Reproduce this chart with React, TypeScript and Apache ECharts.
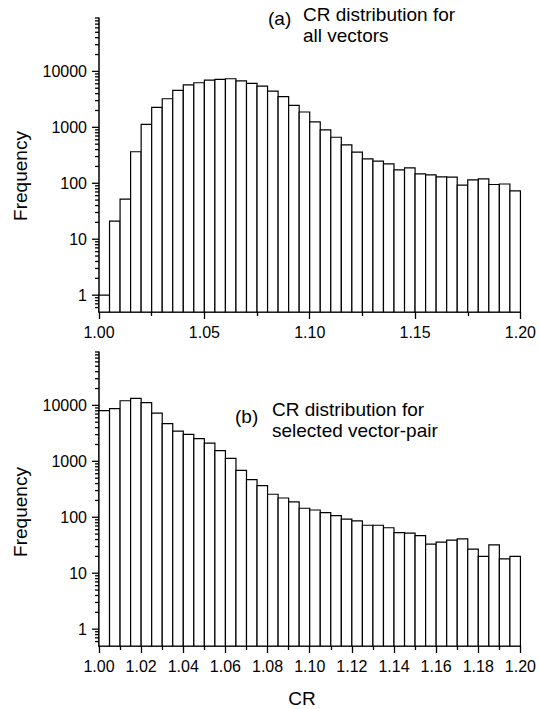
import React, { useEffect, useRef } from "react";
import * as echarts from "echarts";

// Histogram bins (left edges), bin width 0.005
const BIN_STARTS = [
  1.000, 1.005, 1.010, 1.015, 1.020, 1.025, 1.030, 1.035, 1.040, 1.045,
  1.050, 1.055, 1.060, 1.065, 1.070, 1.075, 1.080, 1.085, 1.090, 1.095,
  1.100, 1.105, 1.110, 1.115, 1.120, 1.125, 1.130, 1.135, 1.140, 1.145,
  1.150, 1.155, 1.160, 1.165, 1.170, 1.175, 1.180, 1.185, 1.190, 1.195,
];
const BIN_WIDTH = 0.005;

// (a) CR distribution for all vectors
const COUNTS_ALL = [
  1, 21, 52, 366, 1130, 2270, 3240, 4560, 5750, 6260,
  7000, 7200, 7380, 6770, 6110, 5450, 4450, 3530, 2470, 1880,
  1250, 898, 665, 485, 359, 273, 248, 222, 174, 188,
  147, 141, 130, 129, 93, 115, 120, 95, 97, 73,
];

// (b) CR distribution for selected vector-pair
const COUNTS_PAIR = [
  8040, 8720, 12100, 13300, 11200, 7290, 4710, 3480, 3040, 2540,
  2120, 1550, 1130, 690, 471, 367, 258, 221, 188, 145,
  135, 121, 107, 93, 86, 72, 72, 65, 53, 52,
  47, 33, 36, 39, 41, 27, 20, 32, 18, 20,
];

const Y_DECADES = [1, 10, 100, 1000, 10000];
const Y_SUB_DECADES = [0.1, 1, 10, 100, 1000, 10000];
const Y_MINOR_MULT = [2, 3, 4, 5, 6, 7, 8, 9];
const Y_MIN = 0.5;
const Y_MAX = 90000;
const X_MIN = 1.0;
const X_MAX = 1.2;

const FONT = "'Liberation Sans', Arial, Helvetica, sans-serif";

function buildYTicks() {
  const out: number[][] = [];
  Y_DECADES.forEach((d) => out.push([X_MIN, d, 7]));
  Y_SUB_DECADES.forEach((d) =>
    Y_MINOR_MULT.forEach((m) => {
      const v = d * m;
      if (v > Y_MIN + 1e-9 && v <= Y_MAX + 1e-9) out.push([X_MIN, v, 4]);
    })
  );
  return out;
}

function barData(counts: number[]) {
  return BIN_STARTS.map((s, i) => [s, s + BIN_WIDTH, counts[i]]);
}

export default function App() {
  const ref = useRef<HTMLDivElement>(null);
  useEffect(() => {
    if (!ref.current) return;
    const chart = echarts.init(ref.current, undefined, { renderer: "svg" });
    const axisColor = "#000";
    const xAxis = (gridIndex: number, interval: number) => ({
      gridIndex,
      type: "value",
      min: X_MIN,
      max: X_MAX,
      interval,
      axisLine: { show: true, onZero: false, lineStyle: { color: axisColor, width: 1.5 } },
      axisTick: { show: true, inside: false, length: 7, lineStyle: { color: axisColor, width: 1.3 } },
      minorTick: { show: true, splitNumber: 2, length: 4, lineStyle: { color: axisColor, width: 1.3 } },
      splitLine: { show: false },
      minorSplitLine: { show: false },
      axisLabel: {
        formatter: (v: number) => v.toFixed(2),
        fontSize: 16,
        fontFamily: FONT,
        color: "#000",
        margin: 12,
      },
    });
    const yAxis = (gridIndex: number) => ({
      gridIndex,
      type: "log",
      logBase: 10,
      min: Y_MIN,
      max: Y_MAX,
      axisLine: { show: true, onZero: false, lineStyle: { color: axisColor, width: 1.5 } },
      axisTick: { show: false },
      minorTick: { show: false },
      splitLine: { show: false },
      axisLabel: {
        formatter: (v: number) => {
          const l = Math.log10(v);
          return Math.abs(l - Math.round(l)) < 1e-6 && Y_DECADES.indexOf(Math.round(v)) >= 0
            ? String(Math.round(v))
            : "";
        },
        fontSize: 16,
        fontFamily: FONT,
        color: "#000",
        margin: 12,
      },
    });
    const barSeries = (idx: number, counts: number[]) => ({
      type: "custom",
      xAxisIndex: idx,
      yAxisIndex: idx,
      silent: true,
      data: barData(counts),
      encode: { x: [0, 1], y: 2 },
      renderItem: (params: any, api: any) => {
        const p0 = api.coord([api.value(0), api.value(2)]);
        const p1 = api.coord([api.value(1), Y_MIN]);
        return {
          type: "rect",
          shape: { x: p0[0], y: p0[1], width: p1[0] - p0[0], height: p1[1] - p0[1] },
          style: { fill: "#fff", stroke: "#000", lineWidth: 1.2 },
        };
      },
    });
    const tickSeries = (idx: number) => ({
      type: "custom",
      xAxisIndex: idx,
      yAxisIndex: idx,
      silent: true,
      data: buildYTicks(),
      encode: { x: 0, y: 1 },
      z: 5,
      renderItem: (params: any, api: any) => {
        const p = api.coord([api.value(0), api.value(1)]);
        const len = api.value(2);
        return {
          type: "line",
          shape: { x1: p[0] - len, y1: p[1], x2: p[0], y2: p[1] },
          style: { stroke: "#000", lineWidth: 1.3 },
        };
      },
    });
    const txt = (x: number, y: number, text: string, extra: any = {}) => ({
      type: "text",
      x,
      y,
      ...extra,
      style: {
        text,
        fontSize: 19,
        fontFamily: FONT,
        fill: "#000",
        align: extra.align || "left",
        verticalAlign: "middle",
      },
    });
    chart.setOption({
      animation: false,
      backgroundColor: "#fff",
      grid: [
        { left: 99, top: 18, width: 425, height: 294 },
        { left: 99, top: 352, width: 425, height: 294 },
      ],
      xAxis: [xAxis(0, 0.05), xAxis(1, 0.02)],
      yAxis: [yAxis(0), yAxis(1)],
      series: [barSeries(0, COUNTS_ALL), tickSeries(0), barSeries(1, COUNTS_PAIR), tickSeries(1)],
      graphic: [
        txt(268, 18, "(a)"),
        txt(303, 14, "CR distribution for"),
        txt(303, 35, "all vectors"),
        txt(235, 416, "(b)"),
        txt(272, 409, "CR distribution for"),
        txt(272, 430, "selected vector-pair"),
        {
          type: "text",
          x: 20,
          y: 176,
          rotation: Math.PI / 2,
          style: { text: "Frequency", fontSize: 19, fontFamily: FONT, fill: "#000", align: "center", verticalAlign: "middle" },
        },
        {
          type: "text",
          x: 20,
          y: 512,
          rotation: Math.PI / 2,
          style: { text: "Frequency", fontSize: 19, fontFamily: FONT, fill: "#000", align: "center", verticalAlign: "middle" },
        },
        {
          type: "text",
          x: 302,
          y: 698,
          style: { text: "CR", fontSize: 19, fontFamily: FONT, fill: "#000", align: "center", verticalAlign: "middle" },
        },
      ],
    });
    return () => chart.dispose();
  }, []);
  return (
    <div
      ref={ref}
      style={{ position: "absolute", left: 0, top: 0, width: 539, height: 709, background: "#fff" }}
    />
  );
}
